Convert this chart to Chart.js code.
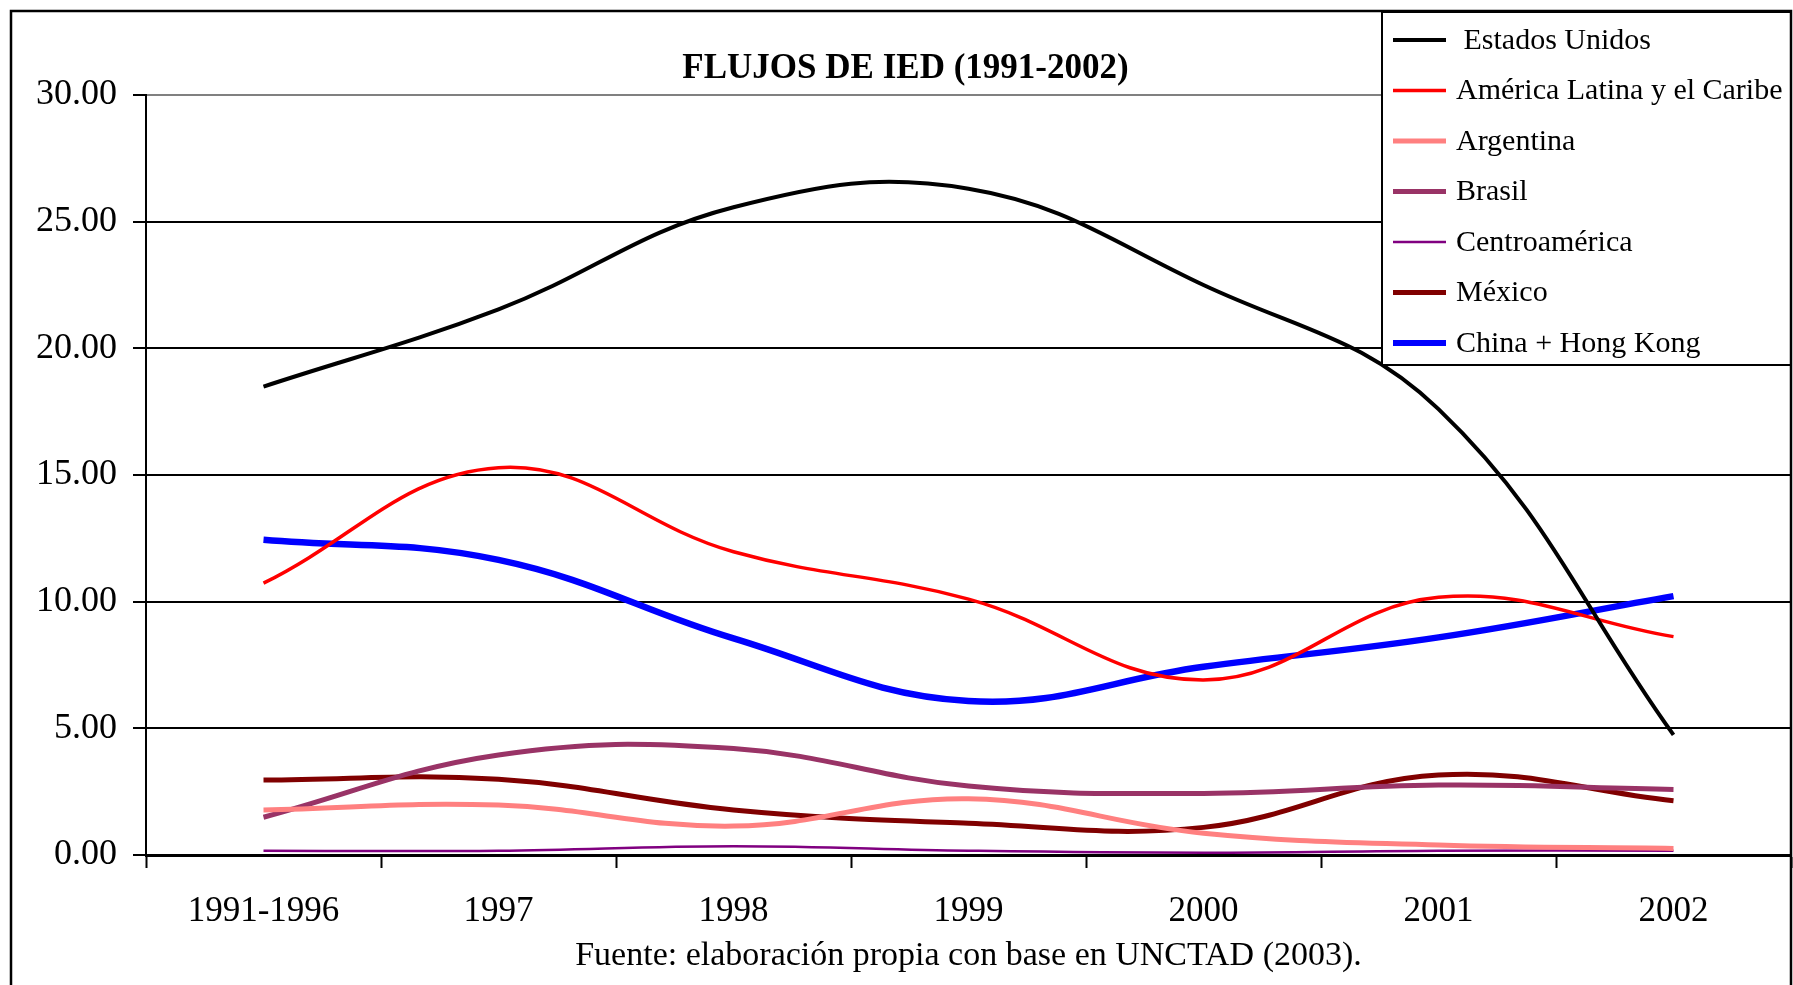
<!DOCTYPE html>
<html>
<head>
<meta charset="utf-8">
<script src="https://cdn.jsdelivr.net/npm/chart.js@4.4.1/dist/chart.umd.min.js"></script>
<style>
  html, body { margin: 0; padding: 0; background: #fff; }
  #wrap { width: 1793px; height: 985px; }
</style>
</head>
<body>
<div id="wrap"><canvas id="iedChart"></canvas></div>
<script>
// Categories (x axis)
const categories = ['1991-1996', '1997', '1998', '1999', '2000', '2001', '2002'];

// Series values
const estadosUnidos   = [18.49, 21.54, 25.57, 26.30, 22.50, 17.60, 4.74];
const americaLatina   = [10.73, 15.29, 11.97, 10.10, 6.91, 10.17, 8.62];
const argentina       = [1.78, 1.97, 1.14, 2.22, 0.86, 0.39, 0.26];
const brasil          = [1.49, 3.95, 4.20, 2.72, 2.43, 2.76, 2.59];
const centroamerica   = [0.17, 0.17, 0.35, 0.17, 0.09, 0.17, 0.17];
const mexico          = [2.96, 2.99, 1.78, 1.25, 1.09, 3.16, 2.14];
const chinaHongKong   = [12.44, 11.65, 8.55, 6.08, 7.43, 8.59, 10.22];

// Y axis ticks
const yMin = 0;
const yMax = 30;
const yStep = 5;

const serif = "'Liberation Serif', 'Times New Roman', serif";

Chart.defaults.color = '#000';
Chart.defaults.font.family = serif;

function series(label, data, color, width) {
    return {
        label: label,
        data: data,
        borderColor: color,
        backgroundColor: color,
        borderWidth: width,
        pointRadius: 0,
        pointHoverRadius: 0,
        tension: 0.4,
        fill: false
    };
}

// Legend box drawn over the top right of the plot, like the original
const boxLegend = {
    id: 'boxLegend',
    afterDraw(chart) {
        const ctx = chart.ctx;
        const x0 = 1382, y0 = 12, w = 409, h = 353;
        ctx.save();
        ctx.fillStyle = '#fff';
        ctx.fillRect(x0, y0, w, h);
        ctx.lineWidth = 2;
        ctx.strokeStyle = '#000';
        ctx.strokeRect(x0, y0, w, h);
        ctx.font = '30px ' + serif;
        ctx.textBaseline = 'middle';
        ctx.textAlign = 'left';
        chart.data.datasets.forEach(function(ds, i) {
            const cy = 40 + i * 50.5;
            ctx.beginPath();
            ctx.strokeStyle = ds.borderColor;
            ctx.lineWidth = Math.min(ds.borderWidth, 6);
            ctx.moveTo(1393, cy);
            ctx.lineTo(1446, cy);
            ctx.stroke();
            ctx.fillStyle = '#000';
            ctx.fillText(ds.label, 1456, cy + 1);
        });
        ctx.restore();
    }
};

// Outer frame of the figure
const frame = {
    id: 'frame',
    afterDraw(chart) {
        const ctx = chart.ctx;
        ctx.save();
        ctx.lineWidth = 2.5;
        ctx.strokeStyle = '#000';
        ctx.strokeRect(11, 11, 1780, 1000);
        ctx.restore();
    }
};

new Chart(document.getElementById('iedChart'), {
    type: 'line',
    data: {
        labels: categories,
        datasets: [
            series(' Estados Unidos', estadosUnidos, '#000000', 4),
            series('América Latina y el Caribe', americaLatina, '#FF0000', 3.5),
            series('Argentina', argentina, '#FF8080', 5),
            series('Brasil', brasil, '#993366', 5),
            series('Centroamérica', centroamerica, '#800080', 2.5),
            series('México', mexico, '#800000', 5),
            series('China + Hong Kong', chinaHongKong, '#0000FF', 6.5)
        ]
    },
    options: {
        responsive: true,
        maintainAspectRatio: false,
        animation: false,
        layout: {
            padding: { left: 20, right: 2, top: 48, bottom: 8.6 }
        },
        plugins: {
            legend: { display: false },
            tooltip: { enabled: false },
            title: {
                display: true,
                text: 'FLUJOS DE IED (1991-2002)',
                font: { size: 35, weight: 'bold', family: serif },
                color: '#000',
                padding: { top: 0, bottom: 5 }
            }
        },
        scales: {
            x: {
                offset: true,
                grid: {
                    display: true,
                    offset: true,
                    drawOnChartArea: false,
                    drawTicks: true,
                    tickLength: 13,
                    tickWidth: 2,
                    tickColor: '#000'
                },
                border: { display: true, color: '#000', width: 3 },
                ticks: {
                    padding: 22.5,
                    font: { size: 35, family: serif },
                    color: '#000',
                    maxRotation: 0,
                    autoSkip: false
                },
                title: {
                    display: true,
                    text: 'Fuente: elaboración propia con base en UNCTAD (2003).',
                    font: { size: 34, family: serif },
                    color: '#000',
                    padding: { top: -19.4, bottom: 0 }
                }
            },
            y: {
                min: yMin,
                max: yMax,
                grid: {
                    color: function(c) { return c.tick && c.tick.value === yMax ? '#808080' : '#000'; },
                    lineWidth: 2,
                    tickLength: 13,
                    tickColor: '#000',
                    tickWidth: 2
                },
                border: { display: true, color: '#000', width: 2 },
                ticks: {
                    stepSize: yStep,
                    padding: 16,
                    font: { size: 36, family: serif },
                    color: '#000',
                    callback: function(v) { return Number(v).toFixed(2); }
                }
            }
        }
    },
    plugins: [boxLegend, frame]
});
</script>
</body>
</html>
